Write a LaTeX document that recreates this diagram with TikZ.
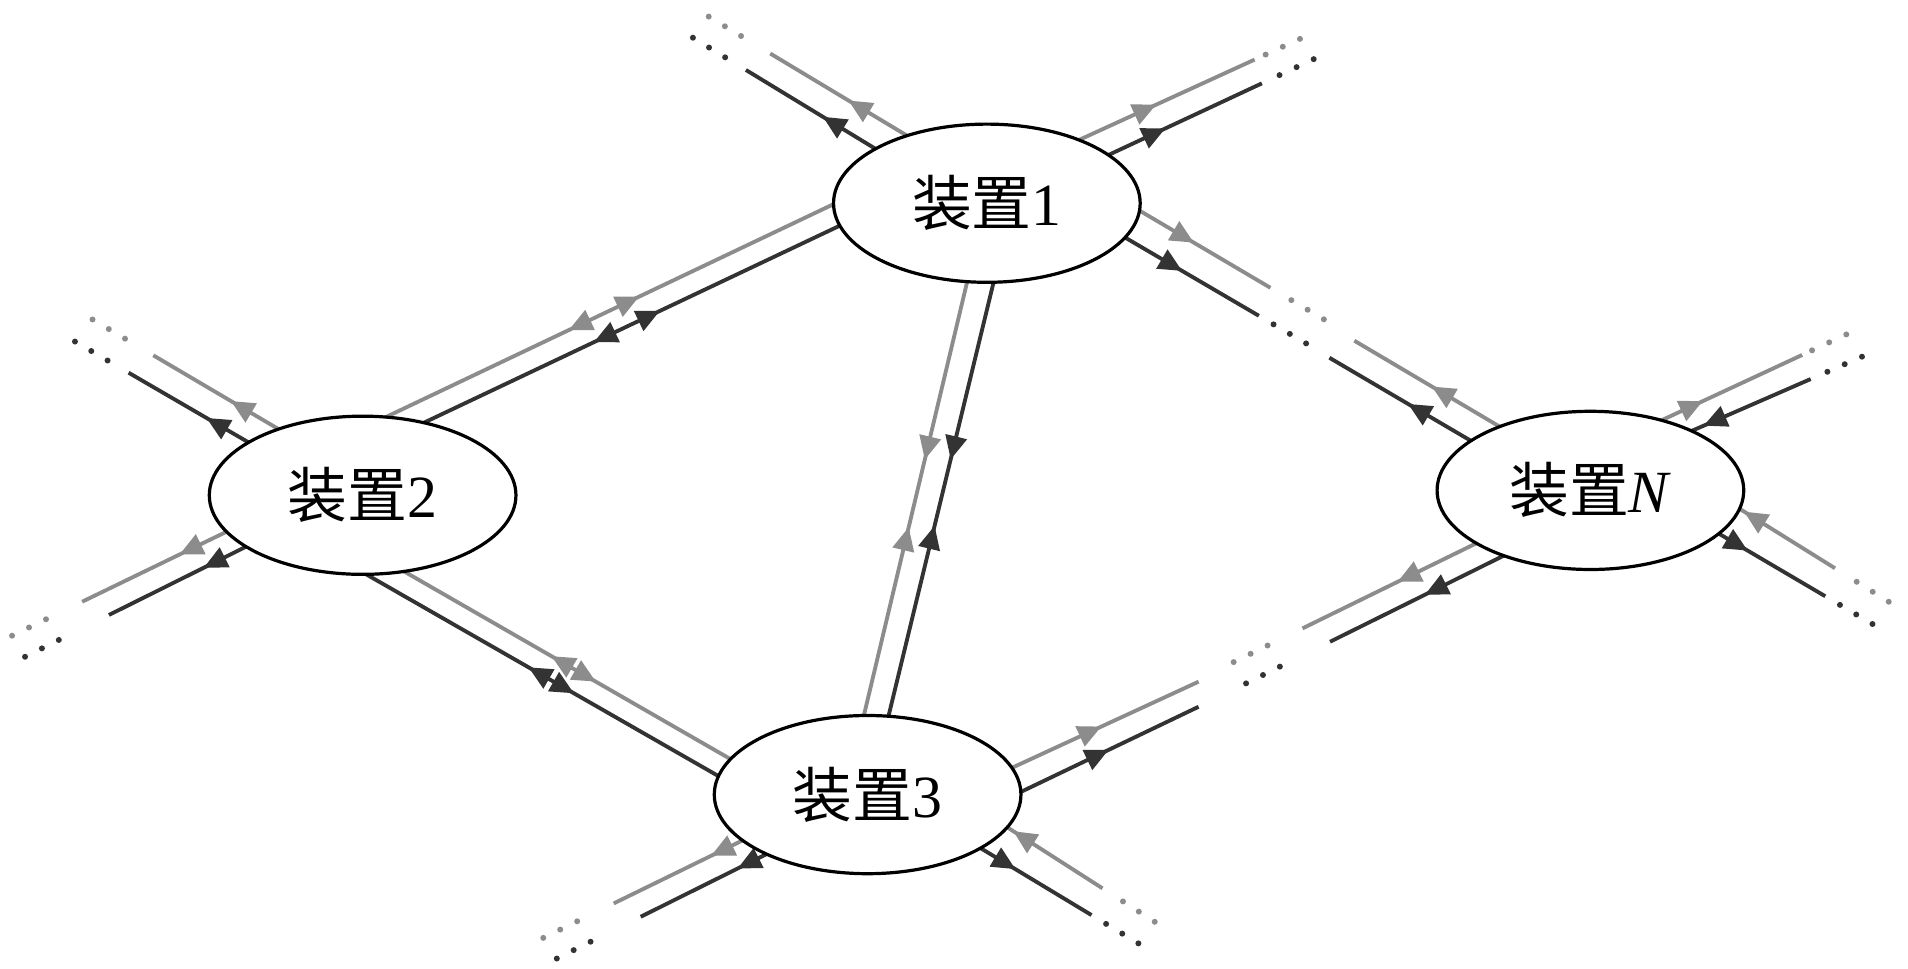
\documentclass[tikz,border=0pt]{standalone}
\usepackage{fontspec}
\setmainfont{Liberation Serif}
\newfontfamily\cjk{Noto Sans CJK SC}
\usetikzlibrary{shapes.geometric, arrows.meta, calc, decorations.markings, backgrounds}

\definecolor{lineg}{HTML}{8C8C8C}
\definecolor{lined}{HTML}{333333}

\tikzset{
  dev/.style={ellipse, draw, line width=0.75pt, fill=white, minimum width=2.52cm,
    minimum height=1.3cm, inner sep=0pt, font=\fontsize{14}{16}\selectfont},
  gline/.style={color=lineg, line width=0.9pt},
  dline/.style={color=lined, line width=0.9pt},
  tipfw/.style={postaction={decorate, decoration={markings,
    mark=at position #1 with {\arrow{Triangle[length=5.5pt,width=5pt]}}}}},
  tipbw/.style={postaction={decorate, decoration={markings,
    mark=at position #1 with {\arrowreversed{Triangle[length=5.5pt,width=5pt]}}}}},
}

% three dots beyond the open end of a stub (#1 = outer end, #1x = inner end)
\newcommand{\dotrow}[3]{%
  \foreach \k in {0,1,2}{%
    \pgfmathsetmacro\dotdist{-(#3+\k*0.155)}%
    \fill[#2] ($(#1)!\dotdist cm!(#1x)$) circle (0.7pt);}}

\begin{document}
\begin{tikzpicture}
\useasboundingbox (0,0) rectangle (15.68,7.96);

\node[dev] (n1) at (8.11,6.29) {{\cjk 装置}1};
\node[dev] (n2) at (2.98,3.89) {{\cjk 装置}2};
\node[dev] (n3) at (7.13,1.43) {{\cjk 装置}3};
\node[dev] (nN) at (13.07,3.93) {{\cjk 装置}\textit{N}};

\begin{pgfonlayer}{background}
% links between devices
\draw[gline, tipbw=1.85cm, tipfw=2.49cm] ($(n2)+(0.024,0.563)$) -- ($(n1)+(-1.05,0.092)$);
\draw[dline, tipbw=1.74cm, tipfw=2.34cm] ($(n2)+(0.328,0.513)$) -- ($(n1)+(-0.994,-0.083)$);
\draw[gline, tipbw=1.56cm, tipfw=1.98cm] ($(n2)+(0.20,-0.545)$) -- ($(n3)+(-0.941,0.185)$);
\draw[dline, tipbw=1.72cm, tipfw=2.15cm] ($(n2)+(-0.129,-0.559)$) -- ($(n3)+(-1.023,0.036)$);
\draw[gline, tipfw=1.74cm, tipbw=2.31cm] ($(n1)+(-0.107,-0.415)$) -- ($(n3)+(-0.078,0.452)$);
\draw[dline, tipfw=1.74cm, tipbw=2.30cm] ($(n1)+(0.112,-0.415)$) -- ($(n3)+(0.125,0.452)$);

% device 1
\draw[gline, tipbw=0.75cm] ($(n1)+(-1.78,1.23)$) coordinate (g1ul) -- ($(n1)+(-0.516,0.471)$) coordinate (g1ulx);
\draw[dline, tipbw=0.74cm] ($(n1)+(-1.98,1.095)$) coordinate (d1ul) -- ($(n1)+(-0.756,0.35)$) coordinate (d1ulx);
\draw[gline, tipbw=0.89cm] ($(n1)+(2.20,1.18)$) coordinate (g1ur) -- ($(n1)+(0.618,0.456)$) coordinate (g1urx);
\draw[dline, tipbw=0.875cm] ($(n1)+(2.26,0.985)$) coordinate (d1ur) -- ($(n1)+(0.823,0.314)$) coordinate (d1urx);
\draw[gline, tipbw=0.73cm] ($(n1)+(2.33,-0.695)$) coordinate (g1lr) -- ($(n1)+(1.055,0.057)$) coordinate (g1lrx);
\draw[dline, tipbw=0.73cm] ($(n1)+(2.235,-0.925)$) coordinate (d1lr) -- ($(n1)+(0.934,-0.164)$) coordinate (d1lrx);

% device N
\draw[gline, tipbw=0.74cm] ($(nN)+(-1.94,1.23)$) -- ($(nN)+(-0.575,0.423)$);
\draw[dline, tipbw=0.75cm] ($(nN)+(-2.145,1.09)$) -- ($(nN)+(-0.804,0.303)$);
\draw[gline, tipbw=0.90cm] ($(nN)+(1.74,1.113)$) coordinate (gNur) -- ($(nN)+(0.423,0.501)$) coordinate (gNurx);
\draw[dline, tipfw=0.96cm] ($(nN)+(1.81,0.915)$) coordinate (dNur) -- ($(nN)+(0.681,0.423)$) coordinate (dNurx);
\draw[gline, tipfw=0.88cm] ($(nN)+(2.01,-0.64)$) coordinate (gNlr) -- ($(nN)+(1.028,-0.028)$) coordinate (gNlrx);
\draw[dline, tipbw=0.74cm] ($(nN)+(1.93,-0.87)$) coordinate (dNlr) -- ($(nN)+(0.864,-0.243)$) coordinate (dNlrx);
\draw[gline, tipbw=0.87cm] ($(nN)+(-2.366,-1.134)$) coordinate (gNll) -- ($(nN)+(-0.765,-0.35)$) coordinate (gNllx);
\draw[dline, tipbw=0.87cm] ($(nN)+(-2.14,-1.244)$) coordinate (dNll) -- ($(nN)+(-0.536,-0.449)$) coordinate (dNllx);

% device 2
\draw[gline, tipbw=0.74cm] ($(n2)+(-1.72,1.15)$) coordinate (g2ul) -- ($(n2)+(-0.52,0.443)$) coordinate (g2ulx);
\draw[dline, tipbw=0.74cm] ($(n2)+(-1.923,1.007)$) coordinate (d2ul) -- ($(n2)+(-0.754,0.328)$) coordinate (d2ulx);
\draw[gline, tipbw=0.89cm] ($(n2)+(-2.305,-0.875)$) coordinate (g2ll) -- ($(n2)+(-0.921,-0.204)$) coordinate (g2llx);
\draw[dline, tipbw=0.87cm] ($(n2)+(-2.085,-0.984)$) coordinate (d2ll) -- ($(n2)+(-0.76,-0.324)$) coordinate (d2llx);

% device 3
\draw[gline, tipbw=0.88cm] ($(n3)+(2.72,0.928)$) -- ($(n3)+(1.008,0.138)$);
\draw[dline, tipbw=0.82cm] ($(n3)+(2.72,0.722)$) -- ($(n3)+(1.065,-0.071)$);
\draw[gline, tipfw=0.87cm] ($(n3)+(1.93,-0.77)$) coordinate (g3lr) -- ($(n3)+(0.97,-0.155)$) coordinate (g3lrx);
\draw[dline, tipbw=0.73cm] ($(n3)+(1.84,-0.99)$) coordinate (d3lr) -- ($(n3)+(0.764,-0.341)$) coordinate (d3lrx);
\draw[gline, tipbw=0.89cm] ($(n3)+(-2.086,-0.894)$) coordinate (g3ll) -- ($(n3)+(-0.851,-0.29)$) coordinate (g3llx);
\draw[dline, tipbw=0.89cm] ($(n3)+(-1.865,-1.004)$) coordinate (d3ll) -- ($(n3)+(-0.65,-0.399)$) coordinate (d3llx);

% dotted continuations
\dotrow{g1ul}{lineg}{0.28} \dotrow{d1ul}{lined}{0.20}
\dotrow{g1ur}{lineg}{0.10} \dotrow{d1ur}{lined}{0.16}
\dotrow{g1lr}{lineg}{0.20} \dotrow{d1lr}{lined}{0.14}
\dotrow{gNur}{lineg}{0.09} \dotrow{dNur}{lined}{0.15}
\dotrow{gNlr}{lineg}{0.21} \dotrow{dNlr}{lined}{0.14}
\dotrow{gNll}{lineg}{0.32} \dotrow{dNll}{lined}{0.46}
\dotrow{g2ul}{lineg}{0.27} \dotrow{d2ul}{lined}{0.20}
\dotrow{g2ll}{lineg}{0.33} \dotrow{d2ll}{lined}{0.46}
\dotrow{g3lr}{lineg}{0.20} \dotrow{d3lr}{lined}{0.14}
\dotrow{g3ll}{lineg}{0.335} \dotrow{d3ll}{lined}{0.46}
\end{pgfonlayer}
\end{tikzpicture}
\end{document}
